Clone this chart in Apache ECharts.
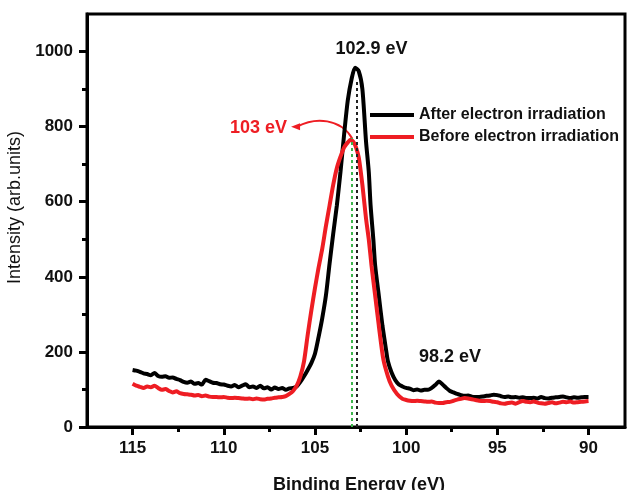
<!DOCTYPE html>
<html>
<head>
<meta charset="utf-8">
<script src="https://cdn.jsdelivr.net/npm/echarts@6/dist/echarts.min.js"></script>
<style>html,body{margin:0;padding:0;background:#fff}#c{width:630px;height:490px}</style>
</head>
<body>
<div id="c"></div>
<script>
// ---- Data ----
const afterEnergy = [115,114.8,114.6,114.4,114.2,114,113.8,113.6,113.4,113.2,113,112.8,112.6,112.4,112.2,112,111.8,111.6,111.4,111.2,111,110.8,110.6,110.4,110.2,110,109.8,109.6,109.4,109.2,109,108.8,108.6,108.4,108.2,108,107.8,107.6,107.4,107.2,107,106.8,106.6,106.4,106.2,106,105.8,105.6,105.4,105.2,105,104.8,104.6,104.4,104.2,104,103.8,103.6,103.4,103.2,103,102.8,102.6,102.4,102.2,102.05,101.95,101.8,101.7,101.5,101.3,101.1,101,100.8,100.6,100.4,100.2,100,99.8,99.6,99.4,99.2,99,98.8,98.6,98.4,98.2,98,97.8,97.6,97.4,97.2,97,96.8,96.6,96.4,96.2,96,95.8,95.6,95.4,95.2,95,94.8,94.6,94.4,94.2,94,93.8,93.6,93.4,93.2,93,92.8,92.6,92.4,92.2,92,91.8,91.6,91.4,91.2,91,90.8,90.6,90.4,90.2,90];
const afterIntensity = [152,150,147,143,141,138,144,136,134,135,131,132,128,125,120,118,121,115,117,113,126,122,118,117,114,113,110,108,112,106,110,114,106,108,104,110,103,106,100,105,101,104,99,103,104,108,120,135,152,170,195,240,290,350,435,515,590,680,780,870,925,957,948,900,760,680,590,500,430,350,270,205,175,145,125,113,108,104,102,98,100,97,99,99,104,112,121,113,104,96,92,88,85,83,84,81,80,80,81,83,84,86,85,82,80,81,79,80,78,79,77,77,78,76,80,77,76,78,79,80,81,79,77,79,78,79,80,80];

const beforeEnergy = [115,114.8,114.6,114.4,114.2,114,113.8,113.6,113.4,113.2,113,112.8,112.6,112.4,112.2,112,111.8,111.6,111.4,111.2,111,110.8,110.6,110.4,110.2,110,109.8,109.6,109.4,109.2,109,108.8,108.6,108.4,108.2,108,107.8,107.6,107.4,107.2,107,106.8,106.6,106.4,106.2,106,105.8,105.6,105.4,105.2,105,104.8,104.6,104.4,104.2,104,103.8,103.6,103.4,103.2,103.05,102.9,102.75,102.6,102.4,102.2,102.05,101.9,101.7,101.5,101.25,101,100.8,100.5,100.2,100,99.8,99.6,99.4,99.2,99,98.8,98.6,98.4,98.2,98,97.8,97.6,97.4,97.2,97,96.8,96.6,96.4,96.2,96,95.8,95.6,95.4,95.2,95,94.8,94.6,94.4,94.2,94,93.8,93.6,93.4,93.2,93,92.8,92.6,92.4,92.2,92,91.8,91.6,91.4,91.2,91,90.8,90.6,90.4,90.2,90];
const beforeIntensity = [115,110,107,104,108,106,110,104,99,101,96,92,95,90,88,87,86,84,85,82,84,81,80,80,79,80,78,77,78,77,76,75,76,74,76,74,73,75,76,78,79,80,82,88,96,110,135,175,245,310,370,425,475,535,590,645,690,720,745,758,765,760,745,718,645,555,500,430,350,270,180,135,110,88,75,72,70,69,70,69,68,67,68,65,64,64,66,67,70,73,75,77,76,74,72,70,69,70,69,67,66,63,62,64,65,62,66,69,67,66,68,65,63,62,64,66,63,65,67,66,68,65,66,67,68,69];

const xMajorTicks = [90, 95, 100, 105, 110, 115];
const xMinorTicks = [92.5, 97.5, 102.5, 107.5, 112.5];
const yMajorTicks = [0, 200, 400, 600, 800, 1000];
const yMinorTicks = [100, 300, 500, 700, 900];

const seriesNames = ['After electron irradiation', 'Before electron irradiation'];
const peakAfter = 102.72, peakAfterTop = 925;
const peakBefore = 103.0, peakBeforeTop = 770;

function zip(xs, ys) { return xs.map((x, i) => [x, ys[i]]); }

const FONT = '"Liberation Sans", Arial, sans-serif';
const RED = '#ee1d23';
const chart = echarts.init(document.getElementById('c'));

const option = {
  animation: false,
  backgroundColor: '#fff',
  grid: { left: 87, right: 5, top: 14, bottom: 63, containLabel: false, outerBoundsMode: 'none', show: true, borderColor: '#000', borderWidth: 3, backgroundColor: 'transparent' },
  legend: {
    data: seriesNames,
    orient: 'vertical',
    left: 365, top: 102,
    icon: 'rect', itemWidth: 44, itemHeight: 4, itemGap: 6,
    textStyle: { fontFamily: FONT, fontWeight: 'bold', fontSize: 16, color: '#111' }
  },
  xAxis: [
    {
      type: 'value', min: 88, max: 117.5, inverse: true,
      name: 'Binding Energy (eV)', nameLocation: 'middle', nameGap: 49,
      nameTextStyle: { fontFamily: FONT, fontWeight: 'bold', fontSize: 18, color: '#111', padding: [0, 0, 0, 6] },
      axisLine: { show: true, onZero: false, lineStyle: { color: '#000', width: 3 } },
      axisTick: { show: true, length: 8, lineStyle: { width: 3, color: '#000' }, customValues: xMajorTicks },
      axisLabel: { customValues: xMajorTicks, margin: 13, fontFamily: FONT, fontWeight: 'bold', fontSize: 17, color: '#111', formatter: v => String(v) },
      splitLine: { show: false }
    },
    {
      type: 'value', min: 88, max: 117.5, inverse: true, position: 'bottom',
      axisLine: { show: false },
      axisTick: { show: true, length: 5, lineStyle: { width: 3, color: '#000' }, customValues: xMinorTicks },
      axisLabel: { show: false },
      splitLine: { show: false }
    }
  ],
  yAxis: [
    {
      type: 'value', min: 0, max: 1100,
      name: 'Intensity (arb.units)', nameLocation: 'middle', nameGap: 61,
      nameTextStyle: { fontFamily: FONT, fontSize: 18, color: '#111', padding: [0, 0, 0, 26] },
      axisLine: { show: true, onZero: false, lineStyle: { color: '#000', width: 3 } },
      axisTick: { show: true, length: 8, lineStyle: { width: 3, color: '#000' }, customValues: yMajorTicks },
      axisLabel: { customValues: yMajorTicks, margin: 14, fontFamily: FONT, fontWeight: 'bold', fontSize: 17, color: '#111', formatter: v => String(v) },
      splitLine: { show: false }
    },
    {
      type: 'value', min: 0, max: 1100, position: 'left',
      axisLine: { show: false },
      axisTick: { show: true, length: 5, lineStyle: { width: 3, color: '#000' }, customValues: yMinorTicks },
      axisLabel: { show: false },
      splitLine: { show: false }
    }
  ],
  series: [
    {
      name: seriesNames[0], type: 'line', xAxisIndex: 0, yAxisIndex: 0,
      data: zip(afterEnergy, afterIntensity), showSymbol: false, smooth: 0.25,
      lineStyle: { color: '#000', width: 4 }, itemStyle: { color: '#000' },
      markLine: {
        silent: true, symbol: 'none', label: { show: false },
        lineStyle: { color: '#222', type: [3, 3], width: 2 },
        data: [[{ coord: [peakAfter, 0] }, { coord: [peakAfter, peakAfterTop] }]]
      }
    },
    {
      name: seriesNames[1], type: 'line', xAxisIndex: 0, yAxisIndex: 0,
      data: zip(beforeEnergy, beforeIntensity), showSymbol: false, smooth: 0.25,
      lineStyle: { color: RED, width: 4 }, itemStyle: { color: RED },
      markLine: {
        silent: true, symbol: 'none', label: { show: false },
        lineStyle: { color: '#3cb44b', type: [3, 3], width: 2 },
        data: [[{ coord: [peakBefore, 0] }, { coord: [peakBefore, peakBeforeTop] }]]
      }
    }
  ]
};
chart.setOption(option);

function px(x, y) { return chart.convertToPixel({ xAxisIndex: 0, yAxisIndex: 0 }, [x, y]); }
const pTip = px(106.2, 800), pC1 = px(104.97, 826), pC2 = px(103.6, 822), pEnd = px(102.95, 768);
const tBlack = px(101.9, 1006), tRed = px(108.1, 795), tSat = px(97.6, 186);
chart.setOption({
  graphic: [
    { type: 'text', x: tBlack[0], y: tBlack[1], style: { text: '102.9 eV', fill: '#111', font: 'bold 18px ' + FONT, align: 'center', verticalAlign: 'middle' } },
    { type: 'text', x: tRed[0], y: tRed[1], style: { text: '103 eV', fill: RED, font: 'bold 18px ' + FONT, align: 'center', verticalAlign: 'middle' } },
    { type: 'text', x: tSat[0], y: tSat[1], style: { text: '98.2 eV', fill: '#111', font: 'bold 18px ' + FONT, align: 'center', verticalAlign: 'middle' } },
    { type: 'bezierCurve', shape: { x1: pTip[0] + 4, y1: pTip[1], cpx1: pC1[0], cpy1: pC1[1], cpx2: pC2[0], cpy2: pC2[1], x2: pEnd[0], y2: pEnd[1] }, style: { stroke: RED, lineWidth: 2, fill: null } },
    { type: 'polygon', shape: { points: [[pTip[0] - 2, pTip[1]], [pTip[0] + 7, pTip[1] - 3.5], [pTip[0] + 7, pTip[1] + 3.5]] }, style: { fill: RED } }
  ]
});
</script>
</body>
</html>
